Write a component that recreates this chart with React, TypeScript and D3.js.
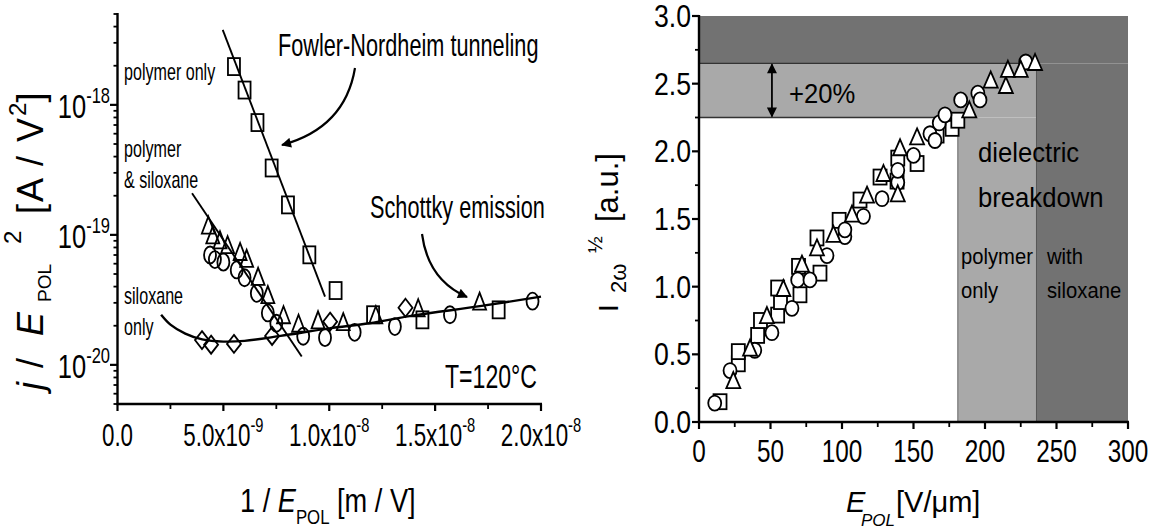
import React from 'react';
import * as d3 from 'd3';

const FONT = "'Liberation Sans', Arial, Helvetica, sans-serif";

// ---------- Left panel data (x in 1e-9 m/V) ----------
const leftXTicks = [0, 5, 10, 15, 20];
const leftXTickMant = ['0.0', '5.0x10', '1.0x10', '1.5x10', '2.0x10'];
const leftXTickExp = ['', '-9', '-8', '-8', '-8'];
const leftYTicks = [1e-18, 1e-19, 1e-20];
const leftYTickExp = ['-18', '-19', '-20'];

const squareX = [5.5, 6.0, 6.61, 7.28, 8.05, 9.06, 10.3, 12.07, 14.4, 18.0];
const squareY = [1.97e-18, 1.30e-18, 7.31e-19, 3.27e-19, 1.70e-19, 7.02e-20, 3.73e-20, 2.43e-20, 2.22e-20, 2.65e-20];
const triangleX = [4.29, 4.5, 4.84, 5.2, 5.79, 6.1, 6.64, 7.1, 7.84, 8.55, 9.47, 10.66, 12.2, 14.2, 17.1];
const triangleY = [1.19e-19, 1.0e-19, 9.16e-20, 8.4e-20, 7.45e-20, 6.6e-20, 4.8e-20, 3.47e-20, 2.43e-20, 2.09e-20, 2.22e-20, 2.15e-20, 2.43e-20, 2.75e-20, 3.09e-20];
const circleX = [4.37, 4.6, 5.0, 5.63, 6.0, 6.58, 7.1, 7.5, 8.77, 9.8, 11.2, 13.1, 15.7, 19.6];
const circleY = [7.0e-20, 6.46e-20, 6.17e-20, 5.37e-20, 4.68e-20, 3.55e-20, 2.51e-20, 2.09e-20, 1.66e-20, 1.62e-20, 1.78e-20, 1.97e-20, 2.43e-20, 3.09e-20];
const diamondX = [3.99, 4.42, 5.5, 7.3, 10.04, 13.6];
const diamondY = [1.55e-20, 1.43e-20, 1.45e-20, 1.67e-20, 2.15e-20, 2.75e-20];

const fnLineX = [4.97, 9.8];
const fnLineY = [3.78e-18, 3.35e-20];
const steepLineX = [3.52, 8.7];
const steepLineY = [2.09e-19, 1.16e-20];
const schottkyX = [2.06, 2.5, 3.2, 4.0, 5.0, 6.0, 7.7, 10, 11.9, 14, 17.2, 20];
const schottkyY = [2.43e-20, 2.04e-20, 1.74e-20, 1.57e-20, 1.51e-20, 1.53e-20, 1.67e-20, 1.91e-20, 2.09e-20, 2.40e-20, 2.84e-20, 3.35e-20];

// ---------- Right panel data ----------
const rightXTicks = [0, 50, 100, 150, 200, 250, 300];
const rightYTicks = [0, 0.5, 1.0, 1.5, 2.0, 2.5, 3.0];
const rSquareX = [14.7, 27.5, 27.5, 41, 43, 55, 57, 55, 70.6, 69.6, 84.6, 82.5, 98, 112.6, 126.6, 138.5, 139, 152.5, 166.5, 177, 181];
const rSquareY = [0.15, 0.43, 0.52, 0.64, 0.75, 0.79, 0.89, 0.99, 0.94, 1.15, 1.10, 1.36, 1.49, 1.64, 1.81, 1.78, 1.95, 1.91, 2.12, 2.17, 2.23];
const rCircleX = [11, 21.7, 39, 51, 65, 69, 77.6, 89.5, 102, 102, 115, 128, 139, 139, 150, 161.5, 165, 168, 172, 183, 195, 196.5, 228.5];
const rCircleY = [0.14, 0.38, 0.53, 0.66, 0.84, 1.05, 1.05, 1.23, 1.37, 1.42, 1.52, 1.65, 1.77, 1.86, 1.97, 2.13, 2.08, 2.21, 2.27, 2.38, 2.43, 2.38, 2.66];
const rTriangleX = [24, 35.7, 47.5, 59, 72, 82.5, 94, 107, 117.5, 129, 139, 140.6, 152.5, 189, 204, 214.6, 216, 225, 235];
const rTriangleY = [0.31, 0.55, 0.79, 0.99, 1.17, 1.29, 1.39, 1.54, 1.68, 1.84, 1.69, 2.03, 2.11, 2.31, 2.53, 2.49, 2.61, 2.61, 2.66];

const breakdownPolymer = 181;
const breakdownSiloxane = 236;
const levelLow = 2.25;
const levelHigh = 2.65;
const arrowAt = 51;

// ---------- helpers ----------
function ST({ x, y, s = 1, anchor = 'start', size, italic = false, children }: any) {
  return (
    <g transform={`translate(${x},${y}) scale(${s},1)`}>
      <text x={0} y={0} textAnchor={anchor} fontSize={size} fontStyle={italic ? 'italic' : 'normal'} fill="#000">
        {children}
      </text>
    </g>
  );
}

function Marker({ kind, cx, cy, w, h, fill }: any) {
  const sw = 1.8;
  if (kind === 'square') return <rect x={cx - w / 2} y={cy - h / 2} width={w} height={h} fill={fill} stroke="#000" strokeWidth={sw} />;
  if (kind === 'circle') return <ellipse cx={cx} cy={cy} rx={w / 2} ry={h / 2} fill={fill} stroke="#000" strokeWidth={sw} />;
  if (kind === 'triangle')
    return <path d={`M${cx},${cy - h / 2}L${cx + w / 2},${cy + h / 2}L${cx - w / 2},${cy + h / 2}Z`} fill={fill} stroke="#000" strokeWidth={sw} />;
  return <path d={`M${cx},${cy - h / 2}L${cx + w / 2},${cy}L${cx},${cy + h / 2}L${cx - w / 2},${cy}Z`} fill={fill} stroke="#000" strokeWidth={sw} />;
}

export default function App() {
  // Left scales
  const xL = d3.scaleLinear().domain([0, 20]).range([117.5, 541]);
  const yL = d3.scaleLog().domain([5e-21, 5e-18]).range([404, 14]);
  const sL = 0.7;
  const lineL = d3.line<[number, number]>().x((d) => xL(d[0])).y((d) => yL(d[1]));
  const curveL = d3.line<[number, number]>().x((d) => xL(d[0])).y((d) => yL(d[1])).curve(d3.curveCatmullRom);

  const leftMinorY: number[] = [];
  for (let e = -21; e <= -18; e++) for (let m = 2; m <= 9; m++) {
    const v = m * Math.pow(10, e);
    if (v >= 5e-21 && v <= 5e-18) leftMinorY.push(v);
  }
  const leftMinorX = [2.5, 7.5, 12.5, 17.5];

  // Right scales
  const xR = d3.scaleLinear().domain([0, 300]).range([699, 1128]);
  const yR = d3.scaleLinear().domain([0, 3]).range([422, 16]);
  const rightMinorX = d3.range(25, 300, 50);
  const rightMinorY = d3.range(0.25, 3, 0.5);

  const zip = (a: number[], b: number[]) => a.map((v, i) => [v, b[i]] as [number, number]);

  return (
    <svg width={1161} height={531} style={{ position: 'absolute', left: 0, top: 0, background: '#fff' }} fontFamily={FONT}>
      <defs>
        <marker id="ah" viewBox="0 0 10 10" refX="9" refY="5" markerWidth="14" markerHeight="10" markerUnits="userSpaceOnUse" orient="auto-start-reverse">
          <path d="M0,0L10,5L0,10Z" fill="#000" />
        </marker>
      </defs>
      <rect x={0} y={0} width={1161} height={531} fill="#fff" />

      {/* ================= LEFT PANEL ================= */}
      <path d={lineL(zip(fnLineX, fnLineY)) || ''} fill="none" stroke="#000" strokeWidth={1.9} />
      <path d={lineL(zip(steepLineX, steepLineY)) || ''} fill="none" stroke="#000" strokeWidth={1.9} />
      <path d={curveL(zip(schottkyX, schottkyY)) || ''} fill="none" stroke="#000" strokeWidth={2.4} />

      {zip(diamondX, diamondY).map((d, i) => <Marker key={'d' + i} kind="diamond" cx={xL(d[0])} cy={yL(d[1])} w={14} h={18} fill="none" />)}
      {zip(circleX, circleY).map((d, i) => <Marker key={'c' + i} kind="circle" cx={xL(d[0])} cy={yL(d[1])} w={12} h={17} fill="none" />)}
      {zip(triangleX, triangleY).map((d, i) => <Marker key={'t' + i} kind="triangle" cx={xL(d[0])} cy={yL(d[1])} w={13} h={17} fill="none" />)}
      {zip(squareX, squareY).map((d, i) => <Marker key={'s' + i} kind="square" cx={xL(d[0])} cy={yL(d[1])} w={12} h={17} fill="none" />)}

      {/* axes */}
      <line x1={117.5} x2={117.5} y1={13} y2={405} stroke="#000" strokeWidth={2.4} />
      <line x1={116.5} x2={542} y1={404} y2={404} stroke="#000" strokeWidth={2.4} />
      {leftYTicks.map((t) => <line key={'ly' + t} x1={110} x2={117.5} y1={yL(t)} y2={yL(t)} stroke="#000" strokeWidth={2.2} />)}
      {leftMinorY.map((t) => <line key={'lym' + t} x1={113.5} x2={117.5} y1={yL(t)} y2={yL(t)} stroke="#000" strokeWidth={1.8} />)}
      {leftXTicks.map((t) => <line key={'lx' + t} x1={xL(t)} x2={xL(t)} y1={404} y2={411} stroke="#000" strokeWidth={2.2} />)}
      {leftMinorX.map((t) => <line key={'lxm' + t} x1={xL(t)} x2={xL(t)} y1={404} y2={409} stroke="#000" strokeWidth={1.8} />)}

      {leftXTicks.map((t, i) => (
        <ST key={'lxl' + t} x={xL(t)} y={446} s={sL} anchor="middle" size={32}>
          {leftXTickMant[i]}
          {leftXTickExp[i] && <tspan dy={-14} fontSize={21}>{leftXTickExp[i]}</tspan>}
        </ST>
      ))}
      {leftYTicks.map((t, i) => (
        <ST key={'lyl' + t} x={110} y={yL(t) + 13} s={0.75} anchor="end" size={34}>
          10<tspan dy={-15} fontSize={22}>{leftYTickExp[i]}</tspan>
        </ST>
      ))}

      {/* annotations */}
      <ST x={124} y={80} s={sL} size={23}>polymer only</ST>
      <ST x={124} y={157} s={sL} size={23}>polymer</ST>
      <ST x={124} y={188} s={sL} size={23}>&amp; siloxane</ST>
      <ST x={124} y={304} s={sL} size={23}>siloxane</ST>
      <ST x={124} y={335} s={sL} size={23}>only</ST>
      <ST x={278} y={56} s={sL} size={31}>Fowler-Nordheim tunneling</ST>
      <ST x={370} y={218} s={sL} size={31}>Schottky emission</ST>
      <ST x={537} y={388} s={sL} anchor="end" size={33}>T=120°C</ST>
      <path d="M355,68 Q345,128 282,145" fill="none" stroke="#000" strokeWidth={2.2} markerEnd="url(#ah)" />
      <path d="M422,234 Q428,280 467,297" fill="none" stroke="#000" strokeWidth={2.2} markerEnd="url(#ah)" />

      {/* axis titles */}
      <g transform="translate(240,512) scale(0.8,1)">
        <text fontSize={34}>
          1 / <tspan fontStyle="italic">E</tspan>
          <tspan fontSize={21} dy={12}>POL</tspan>
          <tspan dy={-12}>{'  [m / V]'}</tspan>
        </text>
      </g>
      <g transform="translate(43,392) rotate(-90)">
        <text fontSize={36}>
          <tspan x={2} y={0} fontStyle="italic">j</tspan>
          <tspan x={24} y={0}>/</tspan>
          <tspan x={56} y={0} fontStyle="italic">E</tspan>
          <tspan x={90} y={8} fontSize={19}>POL</tspan>
          <tspan x={148} y={-22} fontSize={24}>2</tspan>
          <tspan x={178} y={0} letterSpacing={2}>[A / V</tspan>
          <tspan dy={-17} fontSize={24}>2</tspan>
          <tspan dy={17}>]</tspan>
        </text>
      </g>

      {/* ================= RIGHT PANEL ================= */}
      <rect x={xR(0)} y={yR(3)} width={xR(300) - xR(0)} height={yR(levelHigh) - yR(3)} fill="#727272" />
      <rect x={xR(breakdownSiloxane)} y={yR(levelHigh)} width={xR(300) - xR(breakdownSiloxane)} height={yR(0) - yR(levelHigh)} fill="#727272" />
      <rect x={xR(0)} y={yR(levelHigh)} width={xR(breakdownSiloxane) - xR(0)} height={yR(levelLow) - yR(levelHigh)} fill="#a9a9a9" />
      <rect x={xR(breakdownPolymer)} y={yR(levelLow)} width={xR(breakdownSiloxane) - xR(breakdownPolymer)} height={yR(0) - yR(levelLow)} fill="#a9a9a9" />
      <line x1={xR(0)} x2={xR(breakdownSiloxane)} y1={yR(levelHigh)} y2={yR(levelHigh)} stroke="#333" strokeWidth={1.4} />
      <line x1={xR(0)} x2={xR(breakdownPolymer)} y1={yR(levelLow)} y2={yR(levelLow)} stroke="#333" strokeWidth={1.4} />
      <line x1={xR(breakdownPolymer)} x2={xR(breakdownPolymer)} y1={yR(levelLow)} y2={yR(0)} stroke="#666" strokeWidth={1} />
      <line x1={xR(breakdownSiloxane)} x2={xR(breakdownSiloxane)} y1={yR(levelHigh)} y2={yR(0)} stroke="#555" strokeWidth={1} />

      <line x1={xR(arrowAt)} x2={xR(arrowAt)} y1={yR(levelHigh) + 1} y2={yR(levelLow) - 1} stroke="#000" strokeWidth={1.8} markerStart="url(#ah)" markerEnd="url(#ah)" />
      <ST x={789} y={103} s={0.95} size={27}>+20%</ST>

      <ST x={978} y={162} s={0.95} size={27}>dielectric</ST>
      <ST x={978} y={207} s={0.95} size={27}>breakdown</ST>
      <ST x={961} y={264} s={0.92} size={22}>polymer</ST>
      <ST x={961} y={298} s={0.92} size={22}>only</ST>
      <ST x={1047} y={264} s={0.92} size={22}>with</ST>
      <ST x={1047} y={298} s={0.92} size={22}>siloxane</ST>

      {zip(rSquareX, rSquareY).map((d, i) => <Marker key={'rs' + i} kind="square" cx={xR(d[0])} cy={yR(d[1])} w={13} h={15} fill="#fff" />)}
      {zip(rCircleX, rCircleY).map((d, i) => <Marker key={'rc' + i} kind="circle" cx={xR(d[0])} cy={yR(d[1])} w={13} h={15} fill="#fff" />)}
      {zip(rTriangleX, rTriangleY).map((d, i) => <Marker key={'rt' + i} kind="triangle" cx={xR(d[0])} cy={yR(d[1])} w={14} h={16} fill="#fff" />)}

      {/* axes */}
      <line x1={699} x2={699} y1={15} y2={423} stroke="#000" strokeWidth={2.4} />
      <line x1={698} x2={1129} y1={422} y2={422} stroke="#000" strokeWidth={2.4} />
      {rightYTicks.map((t) => <line key={'ry' + t} x1={692} x2={699} y1={yR(t)} y2={yR(t)} stroke="#000" strokeWidth={2.2} />)}
      {rightMinorY.map((t) => <line key={'rym' + t} x1={695} x2={699} y1={yR(t)} y2={yR(t)} stroke="#000" strokeWidth={1.8} />)}
      {rightXTicks.map((t) => <line key={'rx' + t} x1={xR(t)} x2={xR(t)} y1={422} y2={429} stroke="#000" strokeWidth={2.2} />)}
      {rightMinorX.map((t) => <line key={'rxm' + t} x1={xR(t)} x2={xR(t)} y1={422} y2={427} stroke="#000" strokeWidth={1.8} />)}

      {rightYTicks.map((t) => (
        <ST key={'ryl' + t} x={691} y={yR(t) + 11} s={0.86} anchor="end" size={31}>{t.toFixed(1)}</ST>
      ))}
      {rightXTicks.map((t) => (
        <ST key={'rxl' + t} x={xR(t)} y={462} s={0.76} anchor="middle" size={32}>{String(t)}</ST>
      ))}

      {/* axis titles */}
      <text fontSize={29}>
        <tspan x={846} y={512} fontStyle="italic">E</tspan>
        <tspan x={861} y={526} fontSize={17} fontStyle="italic">POL</tspan>
        <tspan x={896} y={512}>[V/μm]</tspan>
      </text>
      <g transform="translate(618,322) rotate(-90)">
        <text fontSize={28}>
          <tspan x={10} y={0}>I</tspan>
          <tspan x={29} y={8} fontSize={22}>2ω</tspan>
          <tspan x={69} y={-16} fontSize={20}>½</tspan>
          <tspan x={100} y={0} fontSize={31}>[a.u.]</tspan>
        </text>
      </g>
    </svg>
  );
}
